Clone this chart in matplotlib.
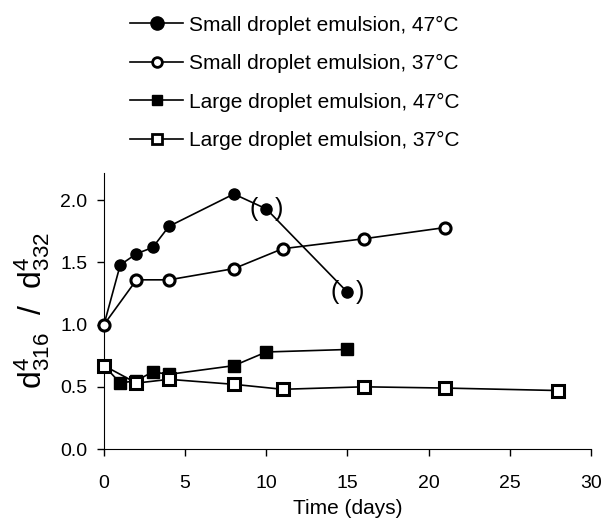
import numpy as np
import matplotlib.pyplot as plt
from matplotlib.lines import Line2D

plt.rcParams['font.family'] = ['Liberation Sans', 'DejaVu Sans']
plt.rcParams['mathtext.fontset'] = 'custom'
plt.rcParams['mathtext.rm'] = 'Liberation Sans'
plt.rcParams['mathtext.it'] = 'Liberation Sans'

# Данные
small47_t = [0, 1, 2, 3, 4, 8, 10, 15]
small47_v = [1.0, 1.48, 1.57, 1.62, 1.79, 2.05, 1.93, 1.26]
small37_t = [0, 2, 4, 8, 11, 16, 21]
small37_v = [1.0, 1.36, 1.36, 1.45, 1.61, 1.69, 1.78]
large47_t = [0, 1, 2, 3, 4, 8, 10, 15]
large47_v = [0.67, 0.53, 0.55, 0.62, 0.60, 0.67, 0.78, 0.80]
large37_t = [0, 2, 4, 8, 11, 16, 21, 28]
large37_v = [0.67, 0.53, 0.56, 0.52, 0.48, 0.50, 0.49, 0.47]
labels = ['Small droplet emulsion, 47°C', 'Small droplet emulsion, 37°C',
          'Large droplet emulsion, 47°C', 'Large droplet emulsion, 37°C']
# точки в скобках
bracket_idx = [6, 7]

fig = plt.figure(figsize=(6.03, 5.27), dpi=100)
ax = fig.add_axes([0.1725, 0.148, 0.8075, 0.524])

series = [
    (small47_t, small47_v, 'o', 'black'),
    (small37_t, small37_v, 'o', 'white'),
    (large47_t, large47_v, 's', 'black'),
    (large37_t, large37_v, 's', 'white'),
]
handles = []
for (t, v, m, fc), lab in zip(series, labels):
    ax.plot(t, v, color='black', lw=1.2, marker=m, ms=8,
            mfc=fc, mec='black', mew=2.2 if fc == 'white' else 1, clip_on=False, zorder=3)
    handles.append(Line2D([], [], color='black', lw=1.2, marker=m,
                          ms=9.5 if fc == 'black' and m == 'o' else 7,
                          mfc=fc, mec='black', mew=2 if fc == 'white' else 1))

for i in bracket_idx:
    ax.annotate('(', (small47_t[i], small47_v[i]), xytext=(-9, 0), textcoords='offset points',
                ha='center', va='center', fontsize=18)
    ax.annotate(')', (small47_t[i], small47_v[i]), xytext=(9, 0), textcoords='offset points',
                ha='center', va='center', fontsize=18)

ax.set_xlim(0, 30)
ax.set_ylim(0, 2.22)
ax.set_xticks(np.arange(0, 31, 5))
ax.set_yticks([0.0, 0.5, 1.0, 1.5, 2.0])
ax.set_yticklabels(['0.0', '0.5', '1.0', '1.5', '2.0'])
ax.spines['top'].set_visible(False)
ax.spines['right'].set_visible(False)
ax.spines['bottom'].set_bounds(0, 30)
ax.tick_params(labelsize=14, length=5, width=1)
ax.tick_params(axis='x', pad=14)
ax.tick_params(axis='y', pad=7)
ax.set_xlabel('Time (days)', fontsize=15, labelpad=5)
ax.set_ylabel(r'$\mathregular{d^4_{316}\ \ /\ \ d^4_{332}}$', fontsize=23, labelpad=6)

fig.legend(handles, labels, loc='upper left', bbox_to_anchor=(0.185, 1.006),
           frameon=False, fontsize=15, labelspacing=0.93, handlelength=2.55,
           handletextpad=0.25)

fig.savefig('out.png', dpi=100)
